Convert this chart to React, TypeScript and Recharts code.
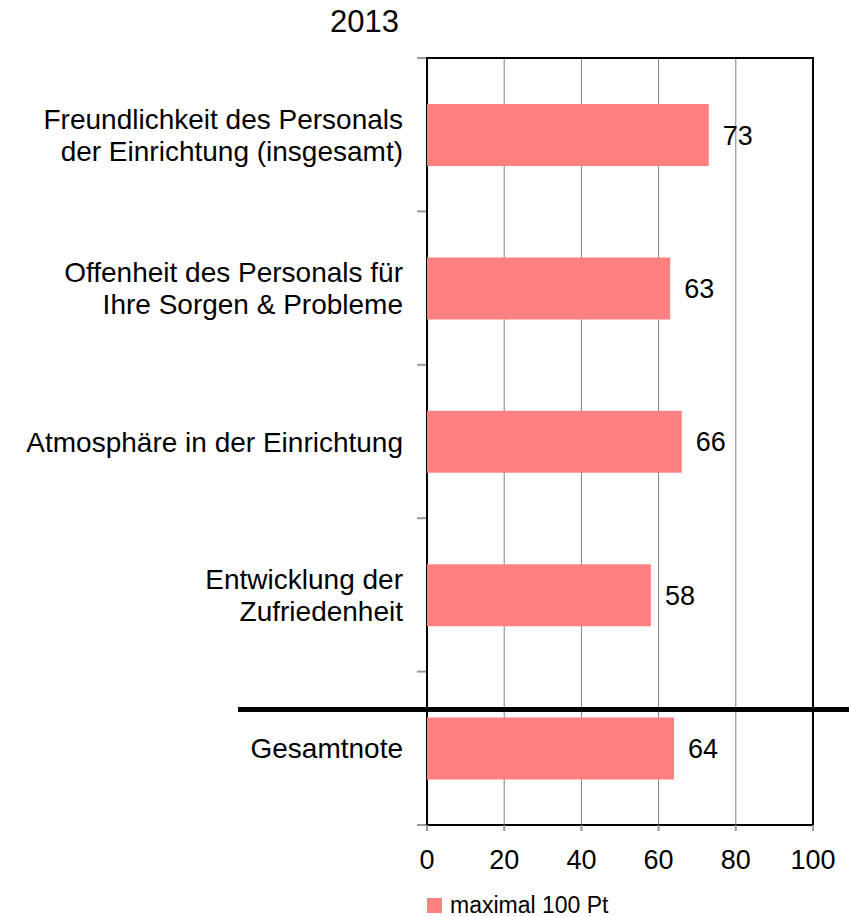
import React from 'react'
import {
  BarChart,
  Bar,
  XAxis,
  YAxis,
  CartesianGrid,
  LabelList,
  Legend,
  ReferenceArea,
} from 'recharts'

// categories (line breaks as in the original labels)
const categories = [
  'Freundlichkeit des Personals\nder Einrichtung (insgesamt)',
  'Offenheit des Personals für\nIhre Sorgen & Probleme',
  'Atmosphäre in der Einrichtung',
  'Entwicklung der\nZufriedenheit',
  'Gesamtnote',
]
const scores = [73, 63, 66, 58, 64]
const xTicks = [0, 20, 40, 60, 80, 100]
const seriesName = 'maximal 100 Pt'
const title = '2013'

const data = categories.map((name, i) => ({ name, value: scores[i] }))

const FONT = '"Liberation Sans", Arial, sans-serif'
const W = 849
const H = 917
const LEGEND_H = 28
const M = { top: 58, right: 36, bottom: 32 - LEGEND_H, left: 17 }
const Y_AXIS_W = 410
const X_AXIS_H = 60
const BAND = (H - 58 - 32 - X_AXIS_H) / categories.length

const CategoryTick = (props: any) => {
  const { x, y, payload, index } = props
  const lines: string[] = String(payload.value).split('\n')
  const lh = 32
  const start = y - ((lines.length - 1) * lh) / 2
  return (
    <g>
      <line x1={x + 14} x2={x + 23} y1={y - BAND / 2} y2={y - BAND / 2} stroke="#999" strokeWidth={2} />
      {index === categories.length - 1 && (
        <line x1={x + 14} x2={x + 23} y1={y + BAND / 2} y2={y + BAND / 2} stroke="#999" strokeWidth={2} />
      )}
      <text x={x} y={start} textAnchor="end" dominantBaseline="central" fontFamily={FONT} fontSize={28} fill="#000">
        {lines.map((l, i) => (
          <tspan key={i} x={x} y={start + i * lh}>
            {l}
          </tspan>
        ))}
      </text>
    </g>
  )
}

const LegendContent = () => (
  <div style={{ display: 'flex', alignItems: 'center', fontFamily: FONT, fontSize: 23, color: '#000' }}>
    <span style={{ display: 'inline-block', width: 15, height: 15, background: '#FF8080', marginRight: 8 }} />
    {seriesName}
  </div>
)

export default function App() {
  return (
    <div style={{ position: 'relative', width: W, height: H, background: '#fff', overflow: 'hidden' }}>
      <style>{'body { margin: 0; }'}</style>
      <div
        style={{
          position: 'absolute',
          left: 330,
          top: 5,
          fontFamily: FONT,
          fontSize: 31,
          color: '#000',
          lineHeight: '34px',
        }}
      >
        {title}
      </div>
      <BarChart width={W} height={H} data={data} layout="vertical" margin={M}>
        <CartesianGrid horizontal={false} vertical stroke="#808080" strokeWidth={1} />
        <XAxis
          type="number"
          domain={[0, 100]}
          ticks={xTicks}
          height={X_AXIS_H}
          axisLine={false}
          tickLine={{ stroke: '#999', strokeWidth: 2 }}
          tickSize={6}
          tickMargin={19}
          tick={{ fontFamily: FONT, fontSize: 27, fill: '#000' }}
        />
        <YAxis
          type="category"
          dataKey="name"
          width={Y_AXIS_W}
          axisLine={false}
          tickLine={false}
          tickSize={0}
          tickMargin={24}
          interval={0}
          tick={<CategoryTick />}
        />
        <ReferenceArea x1={0} x2={100} fill="none" stroke="#000" strokeWidth={2} ifOverflow="visible" />
        <Bar dataKey="value" name={seriesName} fill="#FF8080" barSize={62} isAnimationActive={false}>
          <LabelList dataKey="value" position="right" offset={14} fill="#000" fontSize={27} fontFamily={FONT} />
        </Bar>
        <Legend
          layout="horizontal"
          verticalAlign="bottom"
          align="left"
          content={<LegendContent />}
          wrapperStyle={{ left: 427, top: 892, bottom: 'auto', width: 300, height: LEGEND_H }}
        />
      </BarChart>
      <div
        style={{
          position: 'absolute',
          left: 238,
          top: 707,
          width: W - 238,
          height: 5,
          background: '#000',
        }}
      />
    </div>
  )
}
